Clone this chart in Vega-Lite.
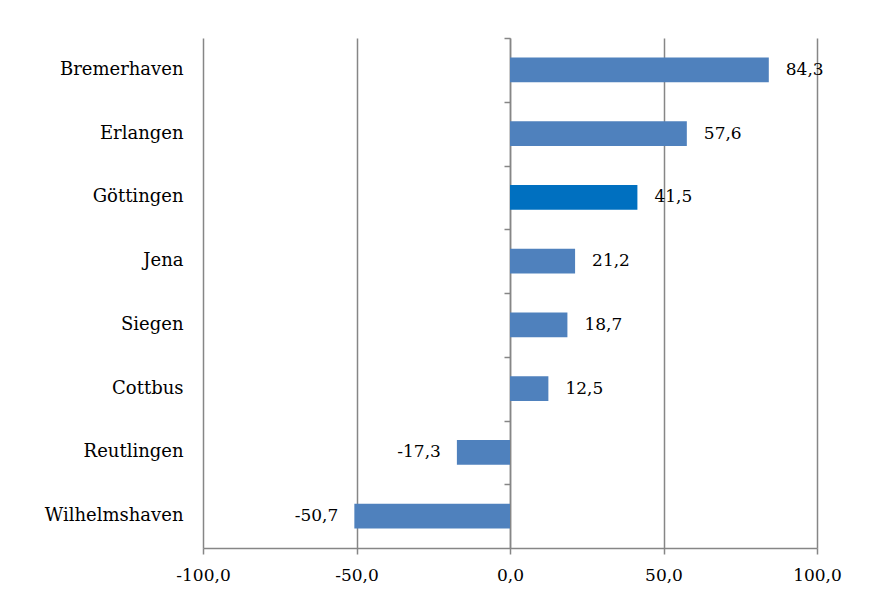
{
  "$schema": "https://vega.github.io/schema/vega-lite/v6.json",
  "width": 614,
  "height": 510,
  "autosize": "none",
  "padding": {"left": 203, "top": 38, "right": 58, "bottom": 56},
  "background": "white",
  "config": {
    "view": {"stroke": null},
    "font": "DejaVu Serif",
    "locale": {"number": {"decimal": ",", "thousands": ".", "grouping": [3], "currency": ["", " €"], "minus": "-"}}
  },
  "data": {
    "values": [
      {"city": "Bremerhaven", "value": 84.3},
      {"city": "Erlangen", "value": 57.6},
      {"city": "Göttingen", "value": 41.5},
      {"city": "Jena", "value": 21.2},
      {"city": "Siegen", "value": 18.7},
      {"city": "Cottbus", "value": 12.5},
      {"city": "Reutlingen", "value": -17.3},
      {"city": "Wilhelmshaven", "value": -50.7}
    ]
  },
  "layer": [
    {
      "mark": {"type": "bar"},
      "encoding": {
        "x": {
          "field": "value",
          "type": "quantitative",
          "scale": {"domain": [-100, 100], "nice": false, "zero": false},
          "axis": {
            "title": null,
            "values": [-100, -50, 0, 50, 100],
            "format": ".1f",
            "grid": true,
            "gridColor": "#868686",
            "gridWidth": 1.5,
            "domainColor": "#868686",
            "domainWidth": 1.5,
            "tickColor": "#868686",
            "tickWidth": 1.5,
            "tickSize": 6,
            "labelPadding": 13,
            "labelFontSize": 17,
            "labelColor": "black",
            "labelFlush": false
          }
        },
        "y": {
          "field": "city",
          "type": "nominal",
          "sort": null,
          "scale": {"paddingInner": 0.61, "paddingOuter": 0.305},
          "axis": {
            "title": null,
            "domain": false,
            "ticks": false,
            "labelPadding": 20,
            "labelFontSize": 18,
            "labelColor": "black"
          }
        },
        "color": {
          "condition": {"test": "datum.city === 'Göttingen'", "value": "#0070C0"},
          "value": "#4F81BD"
        }
      }
    },
    {
      "transform": [{"filter": "datum.value >= 0"}],
      "mark": {"type": "text", "align": "left", "dx": 17, "fontSize": 17, "color": "black"},
      "encoding": {
        "x": {"field": "value", "type": "quantitative"},
        "text": {"field": "value", "type": "quantitative", "format": ".1f"},
        "y": {
          "field": "city",
          "type": "nominal",
          "sort": null,
          "axis": {
            "title": null,
            "labels": false,
            "offset": -307,
            "domainColor": "#868686",
            "domainWidth": 1.5,
            "tickColor": "#868686",
            "tickWidth": 1.5,
            "tickSize": -6,
            "bandPosition": 0,
            "tickOffset": -19.4
          }
        }
      }
    },
    {
      "transform": [{"filter": "datum.value < 0"}],
      "mark": {"type": "text", "align": "right", "dx": -16, "fontSize": 17, "color": "black"},
      "encoding": {
        "x": {"field": "value", "type": "quantitative"},
        "y": {"field": "city", "type": "nominal", "sort": null, "axis": null},
        "text": {"field": "value", "type": "quantitative", "format": ".1f"}
      }
    }
  ],
  "resolve": {"axis": {"y": "independent"}}
}
